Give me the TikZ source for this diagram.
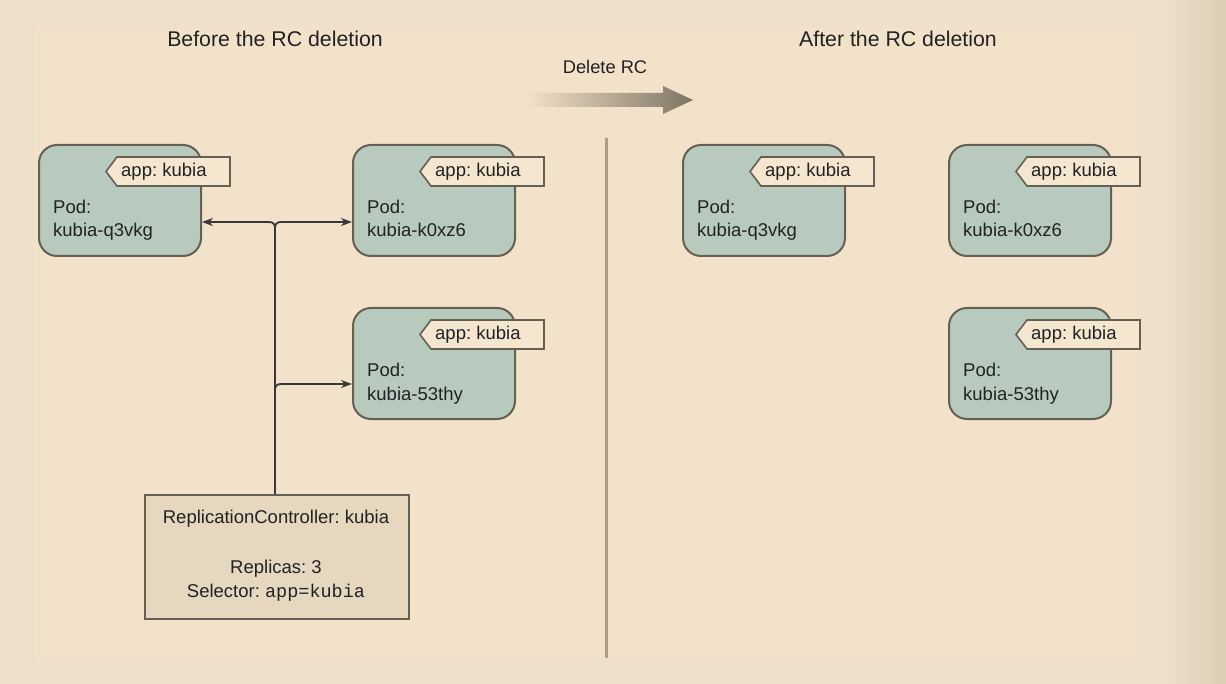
\documentclass[tikz,border=0pt]{standalone}
\usepackage{fontspec}
\setmainfont{Liberation Sans}
\newfontfamily\monofont{Liberation Mono}
\usetikzlibrary{arrows.meta}
\frenchspacing
\definecolor{outerbg}{HTML}{EDE1CB}
\definecolor{innerbg}{HTML}{F2E2C9}
\definecolor{edgebg}{HTML}{DBCDB6}
\definecolor{podfill}{HTML}{B7CABD}
\definecolor{border}{HTML}{665F53}
\definecolor{tagfill}{HTML}{F4E6CF}
\definecolor{rcfill}{HTML}{E6D7BF}
\definecolor{txt}{HTML}{222222}
\definecolor{conncol}{HTML}{383838}
\definecolor{divcol}{HTML}{A89E8E}
\definecolor{arrowcol}{HTML}{7E7464}
\tikzset{
  pod/.style={draw=border, fill=podfill, line width=2pt, rounded corners=18pt,
    minimum width=162pt, minimum height=111pt, inner sep=0pt},
  tagline/.style={draw=border, fill=tagfill, line width=1.6pt},
  tagtext/.style={anchor=base west, inner sep=0pt, text=txt, font=\fontsize{18.5}{22}\selectfont},
  podtext/.style={anchor=base west, inner sep=0pt, text=txt, font=\fontsize{18.5}{22}\selectfont},
  rcbox/.style={draw=border, fill=rcfill, line width=2pt, minimum width=264pt,
    minimum height=124pt, inner sep=0pt},
  rctext/.style={anchor=base, inner sep=0pt, text=txt, font=\fontsize{18.5}{22}\selectfont},
  title/.style={anchor=base, inner sep=0pt, text=txt, font=\fontsize{21.3}{25}\selectfont},
  conn/.style={draw=conncol, line width=1.8pt},
  arr/.style={conn, -{Stealth[length=11pt,width=8pt]}},
}
\newcommand\mypod[4]{%
  \begin{scope}[shift={(#2,#3)}]
    \node[pod, anchor=north west] (#1) at (0,0) {};
    \draw[tagline] (68,27.5) -- (79,13) -- (192,13) -- (192,42) -- (79,42) -- cycle;
    \node[tagtext] (#1tag) at (83,33) {app: kubia};
    \node[podtext] (#1a) at (15,70) {Pod:};
    \node[podtext] (#1b) at (15,93) {#4};
  \end{scope}}
\begin{document}
\begin{tikzpicture}[x=1pt,y=-1pt]
  % background
  \fill[outerbg] (0,0) rectangle (1226,684);
  \fill[innerbg] (35,28) rectangle (1138,659);
  \shade[left color=outerbg, right color=edgebg] (1165,0) rectangle (1226,684);
  \useasboundingbox (0,0) rectangle (1226,684);

  % titles
  \node[title] (t1) at (275,47) {Before the RC deletion};
  \node[title] (t2) at (898,47) {After the RC deletion};
  \node[rctext, font=\fontsize{18.3}{22}\selectfont] (del) at (605,74) {Delete RC};
  \shade[left color=innerbg, right color=arrowcol]
    (527,93) -- (663,93) -- (663,86) -- (693,100) -- (663,114) -- (663,107) -- (527,107) -- cycle;

  % divider
  \coordinate (d1) at (606,138);
  \coordinate (d2) at (606,658);
  \draw[divcol, line width=3pt] (d1) -- (d2);

  % pods
  \mypod{p1}{38}{144}{kubia-q3vkg}
  \mypod{p2}{352}{144}{kubia-k0xz6}
  \mypod{p3}{352}{307}{kubia-53thy}
  \mypod{p4}{682}{144}{kubia-q3vkg}
  \mypod{p5}{948}{144}{kubia-k0xz6}
  \mypod{p6}{948}{307}{kubia-53thy}

  % replication controller
  \node[rcbox, anchor=north west] (rc) at (144,494) {};
  \node[rctext] (rc1) at (276,523) {ReplicationController: kubia};
  \node[rctext] (rc2) at (276,573) {Replicas: 3};
  \node[rctext] (rc3) at (276,597) {Selector: {\monofont app=kubia}};

  % connectors
  \coordinate (j1) at (275,228);
  \coordinate (j3) at (275,390);
  \coordinate (h1) at (275,222);
  \coordinate (h3) at (275,384);
  \draw[conn] (rc.north -| j1) -- (j1);
  \draw[arr] (j1) .. controls (275,224) and (273,222) .. (269,222) -- (p1.east |- h1);
  \draw[arr] (j1) .. controls (275,224) and (277,222) .. (281,222) -- (p2.west |- h1);
  \draw[arr] (j3) .. controls (275,386) and (277,384) .. (281,384) -- (p3.west |- h3);
\end{tikzpicture}
\end{document}
